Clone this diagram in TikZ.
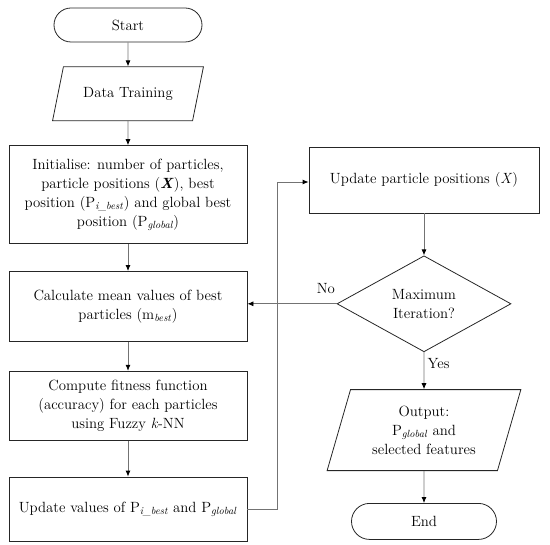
\documentclass[tikz,border=0pt]{standalone}
\usepackage{xcolor}
\usepackage{tikz}
\usetikzlibrary{arrows.meta, positioning, shapes.geometric, shapes.misc}

\begin{document}
\begin{tikzpicture}[
  x=1pt, y=1pt,
  every node/.style={font=\fontsize{14.8}{19}\selectfont, text=black},
  box/.style={draw=black!85, line width=0.8pt, rectangle, align=center,
              inner sep=2pt},
  term/.style={draw=black!85, line width=0.8pt, rounded rectangle,
               inner sep=2pt},
  io/.style={draw=black!85, line width=0.8pt, trapezium,
             trapezium stretches=true, align=center, inner sep=1pt},
  dec/.style={draw=black!85, line width=0.8pt, diamond, aspect=1.8,
              align=center, inner sep=0pt},
  arr/.style={-{Latex[length=6pt, width=5pt, black]}, draw=black!55,
              line width=0.8pt},
]
  \useasboundingbox (0,0) rectangle (550,-545);

  \node[term, minimum width=152pt, minimum height=34pt] (start) at (128,-25) {Start};
  \node[io, trapezium left angle=63, trapezium right angle=117,
        minimum width=151pt, minimum height=54pt,
        below=24pt of start] (data) {Data Training};
  \node[box, minimum width=238pt, minimum height=98pt,
        below=24pt of data] (init)
        {Initialise: number of particles,\\
         particle positions (\textbf{\textit{X}}), best\\
         position (P\textsubscript{\textit{i\_best}}) and global best\\
         position (P\textsubscript{\textit{global}})};
  \node[box, minimum width=238pt, minimum height=70pt,
        below=27pt of init] (calc)
        {Calculate mean values of best\\
         particles (m\textsubscript{\textit{best}})};
  \node[box, minimum width=238pt, minimum height=69pt,
        below=29pt of calc] (fit)
        {Compute fitness function\\
         (accuracy) for each particles\\
         using Fuzzy \textit{k}-NN};
  \node[box, minimum width=238pt, minimum height=64pt,
        below=36pt of fit] (upd)
        {Update values of P\textsubscript{\textit{i\_best}} and P\textsubscript{\textit{global}}};

  \node[box, minimum width=230pt, minimum height=66pt] (pos) at (424,-180)
        {Update particle positions (\textit{X})};
  \node[dec, minimum width=174pt, minimum height=96pt,
        below=42pt of pos] (maxit) {Maximum\\Iteration?};
  \node[io, trapezium left angle=71.6, trapezium right angle=108.4,
        minimum width=194pt, minimum height=81pt,
        below=37pt of maxit] (out)
        {Output:\\P\textsubscript{\textit{global}} and\\selected features};
  \node[term, minimum width=149pt, minimum height=36pt,
        below=32pt of out] (stop) {End};

  \coordinate (loop) at (277,0);

  \draw[arr] (start) -- (data);
  \draw[arr] (data)  -- (init);
  \draw[arr] (init)  -- (calc);
  \draw[arr] (calc)  -- (fit);
  \draw[arr] (fit)   -- (upd);
  \draw[arr] (upd.east) -- (upd.east -| loop) |- ([yshift=-2pt]pos.west);
  \draw[arr] (pos)   -- (maxit);
  \draw[arr] (maxit.west) -- node[above, pos=0.12, yshift=6pt]{No} (maxit.west -| calc.east);
  \draw[arr] (maxit) -- node[right, pos=0.3]{Yes} (out);
  \draw[arr] (out)   -- (stop);
\end{tikzpicture}
\end{document}
